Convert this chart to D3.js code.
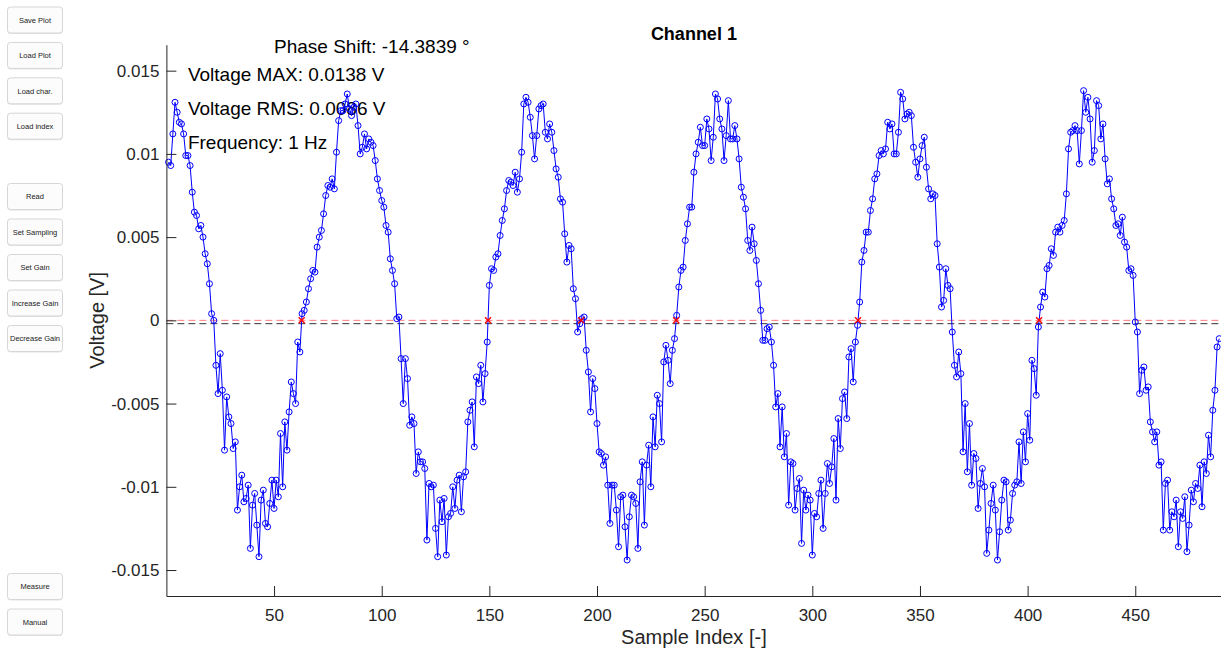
<!DOCTYPE html>
<html>
<head>
<meta charset="utf-8">
<script src="https://cdn.jsdelivr.net/npm/d3@7"></script>
<style>
  html, body { margin: 0; padding: 0; background: #fff; overflow: hidden; }
  svg { display: block; font-family: "Liberation Sans", Arial, Helvetica, sans-serif; }
</style>
</head>
<body>
<svg id="chart" width="1221" height="653"></svg>
<script>
// Channel 1 samples, volts (sample index 1..489)
const voltage = [
  0.0095, 0.0093, 0.0112, 0.0131, 0.0125, 0.0119, 0.0118, 0.0112, 0.0099, 0.0099,
  0.0093, 0.0077, 0.0065, 0.0063, 0.0055, 0.0057, 0.0050, 0.0040, 0.0034, 0.0022,
  0.0004, 0.0000, -0.0027, -0.0044, -0.0020, -0.0042, -0.0078, -0.0046, -0.0058, -0.0062,
  -0.0077, -0.0073, -0.0114, -0.0100, -0.0093, -0.0109, -0.0107, -0.0099, -0.0137, -0.0111,
  -0.0104, -0.0123, -0.0142, -0.0108, -0.0102, -0.0122, -0.0124, -0.0110, -0.0096, -0.0113,
  -0.0096, -0.0106, -0.0068, -0.0100, -0.0061, -0.0078, -0.0055, -0.0037, -0.0044, -0.0050,
  -0.0013, -0.0019, 0.0004, 0.0006, 0.0011, 0.0019, 0.0025, 0.0030, 0.0029, 0.0044,
  0.0050, 0.0054, 0.0064, 0.0075, 0.0081, 0.0080, 0.0085, 0.0079, 0.0101, 0.0120,
  0.0126, 0.0126, 0.0130, 0.0136, 0.0127, 0.0123, 0.0128, 0.0130, 0.0117, 0.0100,
  0.0104, 0.0112, 0.0103, 0.0109, 0.0107, 0.0105, 0.0096, 0.0085, 0.0078, 0.0072,
  0.0068, 0.0057, 0.0053, 0.0037, 0.0030, 0.0022, 0.0001, 0.0002, -0.0023, -0.0050,
  -0.0023, -0.0035, -0.0063, -0.0058, -0.0062, -0.0092, -0.0079, -0.0085, -0.0085, -0.0089,
  -0.0132, -0.0098, -0.0100, -0.0099, -0.0125, -0.0142, -0.0108, -0.0121, -0.0107, -0.0141,
  -0.0118, -0.0116, -0.0100, -0.0113, -0.0096, -0.0093, -0.0115, -0.0094, -0.0091, -0.0061,
  -0.0054, -0.0049, -0.0076, -0.0034, -0.0038, -0.0027, -0.0049, -0.0032, -0.0013, 0.0021,
  0.0031, 0.0030, 0.0038, 0.0040, 0.0051, 0.0060, 0.0067, 0.0078, 0.0084, 0.0083,
  0.0081, 0.0089, 0.0077, 0.0085, 0.0101, 0.0130, 0.0134, 0.0131, 0.0122, 0.0111,
  0.0097, 0.0111, 0.0127, 0.0129, 0.0130, 0.0113, 0.0109, 0.0118, 0.0113, 0.0102,
  0.0091, 0.0086, 0.0073, 0.0071, 0.0052, 0.0035, 0.0045, 0.0043, 0.0019, 0.0013,
  -0.0007, -0.0002, 0.0001, 0.0002, -0.0018, -0.0031, -0.0055, -0.0035, -0.0041, -0.0062,
  -0.0079, -0.0080, -0.0087, -0.0082, -0.0099, -0.0122, -0.0099, -0.0099, -0.0114, -0.0136,
  -0.0106, -0.0105, -0.0124, -0.0144, -0.0118, -0.0105, -0.0106, -0.0110, -0.0137, -0.0097,
  -0.0085, -0.0123, -0.0087, -0.0075, -0.0100, -0.0058, -0.0076, -0.0045, -0.0050, -0.0073,
  -0.0025, -0.0015, -0.0024, -0.0038, -0.0018, -0.0011, 0.0003, 0.0020, 0.0030, 0.0032,
  0.0048, 0.0058, 0.0068, 0.0068, 0.0089, 0.0100, 0.0107, 0.0116, 0.0105, 0.0105,
  0.0121, 0.0115, 0.0096, 0.0110, 0.0136, 0.0133, 0.0121, 0.0115, 0.0096, 0.0111,
  0.0132, 0.0109, 0.0109, 0.0117, 0.0109, 0.0097, 0.0080, 0.0074, 0.0067, 0.0048,
  0.0042, 0.0056, 0.0046, 0.0036, 0.0022, 0.0006, -0.0012, -0.0012, -0.0005, -0.0004,
  -0.0013, -0.0027, -0.0052, -0.0044, -0.0076, -0.0052, -0.0082, -0.0068, -0.0111, -0.0085,
  -0.0086, -0.0114, -0.0101, -0.0095, -0.0134, -0.0102, -0.0114, -0.0105, -0.0108, -0.0141,
  -0.0116, -0.0118, -0.0104, -0.0096, -0.0125, -0.0104, -0.0086, -0.0098, -0.0088, -0.0071,
  -0.0108, -0.0059, -0.0077, -0.0047, -0.0043, -0.0059, -0.0022, -0.0017, -0.0037, -0.0013,
  -0.0003, 0.0011, 0.0035, 0.0042, 0.0053, 0.0053, 0.0066, 0.0073, 0.0085, 0.0088,
  0.0099, 0.0102, 0.0100, 0.0103, 0.0119, 0.0115, 0.0118, 0.0100, 0.0100, 0.0113,
  0.0137, 0.0133, 0.0121, 0.0124, 0.0125, 0.0123, 0.0104, 0.0095, 0.0086, 0.0097,
  0.0105, 0.0110, 0.0092, 0.0079, 0.0073, 0.0076, 0.0075, 0.0046, 0.0032, 0.0008,
  0.0012, 0.0031, 0.0021, 0.0019, -0.0007, -0.0027, -0.0034, -0.0019, -0.0032, -0.0079,
  -0.0050, -0.0091, -0.0062, -0.0099, -0.0080, -0.0083, -0.0113, -0.0098, -0.0089, -0.0100,
  -0.0140, -0.0126, -0.0110, -0.0099, -0.0114, -0.0144, -0.0127, -0.0108, -0.0096, -0.0097,
  -0.0126, -0.0120, -0.0104, -0.0099, -0.0097, -0.0073, -0.0098, -0.0067, -0.0085, -0.0056,
  -0.0072, -0.0024, -0.0029, -0.0045, -0.0004, 0.0008, 0.0017, 0.0014, 0.0031, 0.0033,
  0.0043, 0.0039, 0.0053, 0.0056, 0.0053, 0.0057, 0.0060, 0.0076, 0.0103, 0.0113,
  0.0114, 0.0117, 0.0114, 0.0094, 0.0114, 0.0138, 0.0125, 0.0134, 0.0121, 0.0095,
  0.0102, 0.0132, 0.0129, 0.0109, 0.0118, 0.0097, 0.0082, 0.0085, 0.0073, 0.0067,
  0.0057, 0.0058, 0.0051, 0.0062, 0.0047, 0.0044, 0.0030, 0.0031, 0.0027, -0.0001,
  -0.0007, -0.0044, -0.0030, -0.0028, -0.0042, -0.0040, -0.0061, -0.0067, -0.0073, -0.0067,
  -0.0087, -0.0085, -0.0126, -0.0098, -0.0096, -0.0126, -0.0115, -0.0118, -0.0108, -0.0136,
  -0.0115, -0.0119, -0.0106, -0.0139, -0.0123, -0.0102, -0.0109, -0.0098, -0.0101, -0.0087,
  -0.0112, -0.0085, -0.0092, -0.0069, -0.0082, -0.0054, -0.0042, -0.0016, -0.0011
];
const sampleIndex = voltage.map((_, i) => i + 1);

// Reference levels: zero line and signal mean
const zeroLevel = 0;
const meanLevel = -0.0002;

// Axis ticks
const xTicks = [50, 100, 150, 200, 250, 300, 350, 400, 450];
const yTicks = [-0.015, -0.01, -0.005, 0, 0.005, 0.01, 0.015];
const yTickLabels = ["-0.015", "-0.01", "-0.005", "0", "0.005", "0.01", "0.015"];

// Texts
const chartTitle = "Channel 1";
const xLabel = "Sample Index [-]";
const yLabel = "Voltage [V]";
const phaseText = "Phase Shift: -14.3839 °";
const infoLines = ["Voltage MAX: 0.0138 V", "Voltage RMS: 0.0086 V", "Frequency: 1 Hz"];

// Control panel buttons
const fileButtons = ["Save Plot", "Load Plot", "Load char.", "Load index"];
const deviceButtons = ["Read", "Set Sampling", "Set Gain", "Increase Gain", "Decrease Gain"];
const modeButtons = ["Measure", "Manual"];

// ---------------------------------------------------------------
const svg = d3.select("#chart");
const plot = { left: 166.4, right: 1221.4, top: 44.7, bottom: 596 };

const yLim = 1.2 * d3.max(voltage);
const x = d3.scaleLinear().domain([0, 490]).range([plot.left, plot.right]);
const y = d3.scaleLinear().domain([-yLim, yLim]).range([plot.bottom, plot.top]);

const axisColor = "#262626";

// Buttons
function drawButtons(labels, top, step) {
  const g = svg.append("g");
  const b = g.selectAll("g").data(labels).join("g")
    .attr("transform", (d, i) => `translate(7, ${top + i * step})`);
  b.append("rect")
    .attr("x", 0.5).attr("y", 1.5).attr("width", 55).attr("height", 26)
    .attr("rx", 3).attr("fill", "#e4e4e4");
  b.append("rect")
    .attr("x", 0.5).attr("y", 0.5).attr("width", 55).attr("height", 26)
    .attr("rx", 3).attr("fill", "#fcfcfc").attr("stroke", "#d6d6d6");
  b.append("text")
    .attr("x", 28).attr("y", 16.3)
    .attr("text-anchor", "middle")
    .attr("font-size", 7.5)
    .attr("fill", "#1a1a1a")
    .text(d => d);
}
drawButtons(fileButtons, 6.5, 35.4);
drawButtons(deviceButtons, 183, 35.5);
drawButtons(modeButtons, 573, 35.5);

// Info text in the axes
svg.append("text")
  .attr("x", x(50)).attr("y", 52.5)
  .attr("font-size", 19).attr("fill", "#000")
  .text(phaseText);
const infoBaselines = [80.5, 114.5, 148.5];
svg.append("g").selectAll("text").data(infoLines).join("text")
  .attr("x", x(10)).attr("y", (d, i) => infoBaselines[i])
  .attr("font-size", 19).attr("fill", "#000")
  .text(d => d);

// Reference lines
svg.append("line")
  .attr("x1", plot.left).attr("x2", plot.right)
  .attr("y1", y(meanLevel)).attr("y2", y(meanLevel))
  .attr("stroke", "#333").attr("stroke-width", 1)
  .attr("stroke-dasharray", "7,4");
svg.append("line")
  .attr("x1", plot.left).attr("x2", plot.right)
  .attr("y1", y(zeroLevel)).attr("y2", y(zeroLevel))
  .attr("stroke", "#ff7a7a").attr("stroke-width", 1)
  .attr("stroke-dasharray", "7,4");

// Signal line with circle markers
const pts = sampleIndex.map((s, i) => [s, voltage[i]]);
svg.append("path")
  .datum(pts)
  .attr("fill", "none")
  .attr("stroke", "#0000ff")
  .attr("stroke-width", 1)
  .attr("d", d3.line().x(d => x(d[0])).y(d => y(d[1])));
svg.append("g").selectAll("circle").data(pts).join("circle")
  .attr("cx", d => x(d[0])).attr("cy", d => y(d[1]))
  .attr("r", 3)
  .attr("fill", "none").attr("stroke", "#0000ff").attr("stroke-width", 1);

// Rising zero crossings
const crossings = [];
for (let i = 1; i < voltage.length; i++) {
  const a = voltage[i - 1], b = voltage[i];
  if (a < 0 && b >= 0) crossings.push(sampleIndex[i - 1] + (-a) / (b - a));
}
const xm = svg.append("g").selectAll("g").data(crossings).join("g")
  .attr("transform", d => `translate(${x(d)}, ${y(zeroLevel)})`);
xm.append("path")
  .attr("d", "M-3,-3L3,3M-3,3L3,-3")
  .attr("stroke", "#ff0000").attr("stroke-width", 1.4).attr("fill", "none");

// Axes
const xAxis = d3.axisBottom(x).tickValues(xTicks).tickSize(-10).tickSizeOuter(0).tickPadding(13);
const gx = svg.append("g").attr("transform", `translate(0, ${plot.bottom})`).call(xAxis);
const yAxis = d3.axisLeft(y).tickValues(yTicks).tickSize(-10).tickSizeOuter(0).tickPadding(7)
  .tickFormat((d, i) => yTickLabels[i]);
const gy = svg.append("g").attr("transform", `translate(${plot.left}, 0)`).call(yAxis);
[gx, gy].forEach(g => {
  g.select(".domain").attr("stroke", axisColor);
  g.selectAll(".tick line").attr("stroke", axisColor);
  g.selectAll(".tick text")
    .attr("fill", axisColor)
    .attr("font-size", 17)
    .attr("font-family", '"Liberation Sans", Arial, Helvetica, sans-serif');
});

// Labels and title
svg.append("text")
  .attr("x", (plot.left + plot.right) / 2).attr("y", 644)
  .attr("text-anchor", "middle").attr("font-size", 20).attr("fill", axisColor)
  .text(xLabel);
svg.append("text")
  .attr("transform", `translate(104, ${(plot.top + plot.bottom) / 2}) rotate(-90)`)
  .attr("text-anchor", "middle").attr("font-size", 20).attr("fill", axisColor)
  .text(yLabel);
svg.append("text")
  .attr("x", (plot.left + plot.right) / 2).attr("y", 40)
  .attr("text-anchor", "middle").attr("font-size", 18).attr("font-weight", "bold")
  .attr("fill", "#000")
  .text(chartTitle);
</script>
</body>
</html>
